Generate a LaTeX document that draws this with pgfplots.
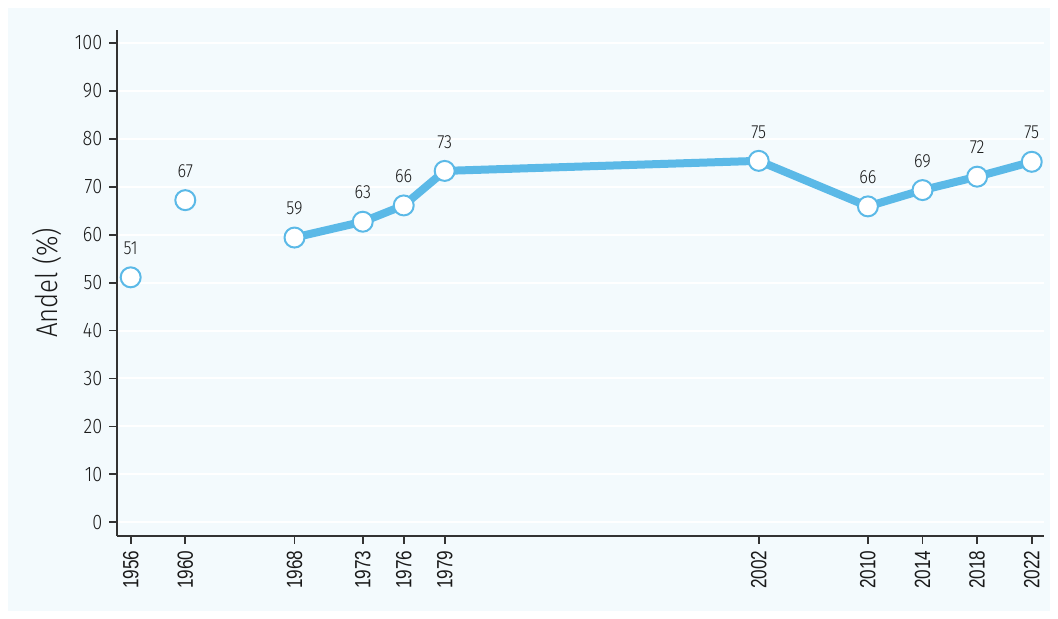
\documentclass[border=0pt]{standalone}
\usepackage{pgfplots}
\pgfplotsset{compat=1.18}
\usepackage{fontspec}
\setmainfont{Fira Sans Light}[FakeStretch=0.86]
\newfontfamily\xfont{Liberation Sans}[FakeStretch=0.78]
\definecolor{bg}{HTML}{F3FAFD}
\definecolor{lb}{HTML}{5BB9E7}
\definecolor{ax}{HTML}{333333}
\definecolor{tx}{HTML}{1A1A1A}
\begin{document}
\begin{tikzpicture}
\useasboundingbox (0,0) rectangle (529pt,309.5pt);
\fill[white] (0,0) rectangle (529pt,309.5pt);
\fill[bg] (4pt,4pt) rectangle (525pt,305.5pt);
\begin{axis}[
 at={(58.65pt,41.65pt)}, anchor=south west,
 scale only axis, width=463.5pt, height=252.85pt,
 xmin=1955.02, xmax=2022.92, ymin=-2.8, ymax=102.7,
 axis x line=bottom, axis y line=left,
 axis line style={-, ax, line width=0.9pt},
 xtick={1956,1960,1968,1973,1976,1979,2002,2010,2014,2018,2022},
 ytick={0,10,...,100},
 tick align=outside, major tick length=4pt,
 tick style={ax, line width=0.9pt},
 xticklabel style={rotate=90, anchor=east, font=\xfont\fontsize{11}{11}\selectfont, text=tx, /pgf/number format/1000 sep={}},
 yticklabel style={font=\fontsize{10.5}{10.5}\selectfont, text=tx},
 /pgf/number format/assume math mode=true,
 ymajorgrids, grid style={white, line width=1pt},
 ylabel={Andel (\%)},
 every axis y label/.style={at={(axis description cs:-0.0758,0.5)}, rotate=90, anchor=center, font=\fontsize{15}{15}\selectfont, text=tx},
 clip=false,
 nodes near coords, point meta=explicit symbolic,
 every node near coord/.style={font=\fontsize{9.5}{9.5}\selectfont, text=tx, anchor=south, inner sep=0pt, yshift=10.8pt},
]
\addplot[draw=lb, line width=4pt, line join=round, mark=*, mark size=5pt, mark options={fill=white, draw=lb, line width=1pt}]
 coordinates {(1968,59.4)[59] (1973,62.7)[63] (1976,66.1)[66] (1979,73.3)[73] (2002,75.4)[75] (2010,65.9)[66] (2014,69.3)[69] (2018,72.1)[72] (2022,75.2)[75]};
\addplot[only marks, mark=*, mark size=5pt, mark options={fill=white, draw=lb, line width=1pt}]
 coordinates {(1956,51.1)[51] (1960,67.2)[67]};
\end{axis}
\end{tikzpicture}
\end{document}
